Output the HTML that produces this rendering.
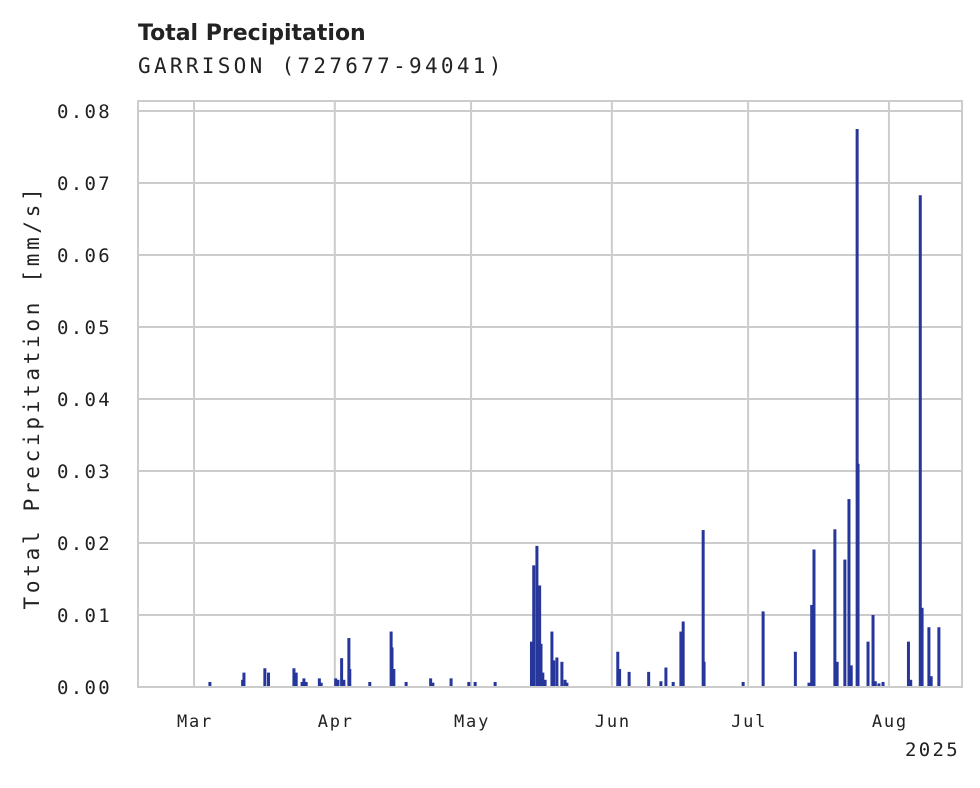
<!DOCTYPE html>
<html><head><meta charset="utf-8"><style>
body{margin:0;background:#fff;width:980px;height:783px;overflow:hidden}
svg text{font-family:"DejaVu Sans Mono","Liberation Mono",monospace;fill:#222}
</style></head><body>
<svg width="980" height="783">
<text x="138" y="40" style="font-family:'DejaVu Sans','Liberation Sans',sans-serif;font-weight:bold;font-size:22px">Total Precipitation</text>
<text x="138" y="73" font-size="21" letter-spacing="3.3">GARRISON (727677-94041)</text>
<g id="grid"></g>
<g id="bars"></g>
<rect x="138" y="101" width="824" height="586" fill="none" stroke="#ccc" stroke-width="2"/>
<g id="yt"></g><g id="xt"></g>
<text transform="translate(39,397) rotate(-90)" text-anchor="middle" font-size="21" letter-spacing="3.7">Total Precipitation [mm/s]</text>
<text x="960" y="756" text-anchor="end" font-size="19" letter-spacing="2.3">2025</text>
</svg>
<script>
const days=[3.5,10.7,11.0,15.6,16.4,22.0,22.5,23.8,24.2,24.7,27.6,28.0,31.2,31.7,32.5,33.0,34.1,34.3,38.7,43.4,43.6,44.0,46.7,52.1,52.6,56.6,60.5,61.9,66.3,74.3,74.8,75.5,76.1,76.4,76.8,77.3,78.8,79.2,79.9,81.0,81.7,82.1,93.3,93.7,95.8,100.1,102.8,103.9,105.5,107.2,107.7,112.1,112.3,120.9,125.3,132.4,135.4,136.0,136.5,141.1,141.6,143.3,144.2,144.7,146.0,146.2,148.4,149.5,150.0,150.8,151.7,157.3,157.8,159.9,160.3,161.8,162.3,164.0];
const values=[0.0007,0.001,0.002,0.0026,0.002,0.0026,0.002,0.0007,0.0012,0.0007,0.0012,0.0006,0.0012,0.001,0.004,0.001,0.0068,0.0025,0.0007,0.0077,0.0055,0.0025,0.0007,0.0012,0.0006,0.0012,0.0007,0.0007,0.0007,0.0063,0.0169,0.0196,0.0141,0.006,0.002,0.001,0.0077,0.0037,0.0041,0.0035,0.001,0.0006,0.0049,0.0025,0.0021,0.0021,0.0008,0.0027,0.0007,0.0077,0.0091,0.0218,0.0035,0.0007,0.0105,0.0049,0.0006,0.0114,0.0191,0.0219,0.0035,0.0177,0.0261,0.003,0.0775,0.031,0.0063,0.01,0.0008,0.0005,0.0007,0.0063,0.001,0.0683,0.011,0.0083,0.0015,0.0083];
const yTicks=[0,0.01,0.02,0.03,0.04,0.05,0.06,0.07,0.08];
const monthNames=["Mar","Apr","May","Jun","Jul","Aug"];
const monthDays=[0,31,61,92,122,153];
const NS="http://www.w3.org/2000/svg";
const xs=d=>194+d*4.542, ys=v=>687-v*7200;
function mk(t,a,p){const e=document.createElementNS(NS,t);for(const k in a)e.setAttribute(k,a[k]);p.appendChild(e);return e;}
const G=document.getElementById('grid'),B=document.getElementById('bars'),YT=document.getElementById('yt'),XT=document.getElementById('xt');
yTicks.forEach(v=>{const y=ys(v);
 const l=mk('line',{x1:138,x2:962,y1:y,y2:y,stroke:'#ccc','stroke-width':2},G);
 
 
 const t=mk('text',{x:112,y:y+7,'text-anchor':'end','font-size':19,'letter-spacing':2.3},YT);t.textContent=v.toFixed(2);
 
 
});
monthDays.forEach((d,i)=>{const x=xs(d);
 const l=mk('line',{x1:x,x2:x,y1:101,y2:687,stroke:'#ccc','stroke-width':2},G);
 
 
 const t=mk('text',{x:x+1,y:727,'text-anchor':'middle','font-size':17,'letter-spacing':1.8},XT);t.textContent=monthNames[i];
 
 
});
days.forEach((d,i)=>{const x=xs(d),y=ys(values[i]);
 const r=mk('rect',{x:x-1.5,y:y,width:3,height:687-y,fill:'#26369a'},B);
 
 
});
</script>
</body></html>
